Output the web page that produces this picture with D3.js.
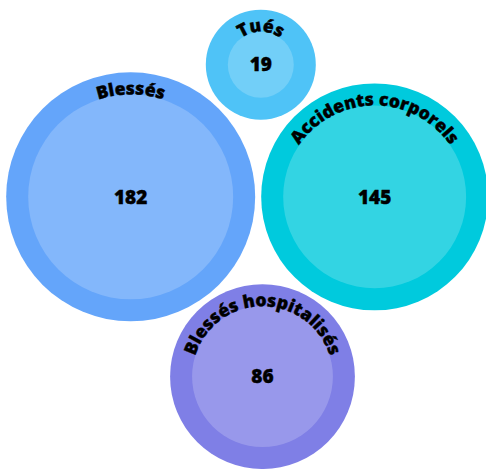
<!DOCTYPE html>
<html lang="fr">
<head>
  <meta charset="UTF-8" />
  <title>Bulles accidents</title>
  <style>
    body {
      margin: 0;
      padding: 0;
      background: #fff;
    }
    .label, .value {
      font-family: "Open Sans", sans-serif;
      font-weight: 800;
      fill: #000;
      stroke: #000;
      stroke-width: 0.4px;
    }
    .label { font-size: 17.5px; }
    .value { font-size: 19px; }
  </style>
</head>
<body>
<svg id="chart" width="486" height="469"></svg>

<script src="https://d3js.org/d3.v7.min.js"></script>
<script>
  // data
  const categories = ["Blessés", "Accidents corporels", "Blessés hospitalisés", "Tués"];
  const values = [182, 145, 86, 19];
  const colors = ["#64a5fa", "#00cadd", "#7f7fe6", "#4fc3f7"];

  const svg = d3.select("#chart");
  const width = +svg.attr("width");
  const height = +svg.attr("height");

  const ring = 22;   // thickness of outer band
  const pad = 3;     // half the gap between bubbles

  const r = d3.scaleSqrt()
    .domain([d3.min(values), d3.max(values)])
    .range([55, 124.5]);

  const nodes = categories.map((name, i) => ({
    name: name,
    value: values[i],
    color: colors[i],
    rr: r(values[i]),
    r: r(values[i]) + pad
  }));

  // pack them like siblings, then center the enclosing circle
  d3.packSiblings(nodes);
  const cx = width / 2 + 4, cy = height / 2 - 9;

  const g = svg.append("g").attr("transform", `translate(${cx},${cy})`);

  const bubble = g.selectAll(".bubble")
    .data(nodes)
    .enter().append("g")
    .attr("class", "bubble")
    .attr("transform", d => `translate(${d.x},${d.y})`);

  bubble.append("circle")
    .attr("r", d => d.rr)
    .attr("fill", d => d.color);

  bubble.append("circle")
    .attr("r", d => d.rr - ring)
    .attr("fill", "#fff")
    .attr("fill-opacity", 0.2);

  // arc paths for curved labels
  bubble.append("path")
    .attr("id", (d, i) => "arc" + i)
    .attr("fill", "none")
    .attr("d", d => {
      const R = d.rr - ring;
      return `M${-R},0 A${R},${R} 0 0 1 ${R},0`;
    });

  bubble.append("text")
    .attr("class", "label")
    .append("textPath")
    .attr("href", (d, i) => "#arc" + i)
    .attr("startOffset", "50%")
    .attr("text-anchor", "middle")
    .text(d => d.name);

  bubble.append("text")
    .attr("class", "value")
    .attr("text-anchor", "middle")
    .attr("dy", "0.35em")
    .text(d => d.value);
</script>
</body>
</html>
